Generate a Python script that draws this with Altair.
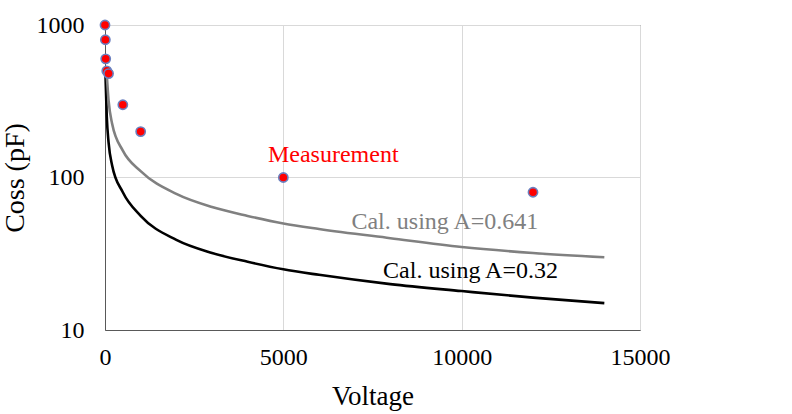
import altair as alt
import pandas as pd

# Measured output capacitance
meas_v = [0, 10, 20, 50, 100, 500, 1000, 5000, 12000]
meas_c = [1000, 800, 600, 500, 480, 300, 200, 100, 80]

# Calculated curves
cal_v = [12, 50, 100, 200, 500, 1000, 2000, 3000, 4000, 5000, 6000, 8000, 10000, 12000, 14000]
cal_a032 = [480, 250, 170, 120, 80, 56, 39, 32, 28, 25, 23, 20, 18, 16.3, 15]
cal_v2 = [50, 100, 200, 500, 1000, 2000, 3000, 4000, 5000, 6000, 8000, 10000, 12000, 14000]
cal_a0641 = [470, 320, 225, 150, 110, 78, 64, 56, 50, 46, 40, 35, 32, 30]

# Annotation labels
labels = ["Measurement", "Cal. using A=0.641", "Cal. using A=0.32"]
label_v = [6400, 12150, 12700]
label_c = [126, 46, 21.9]
label_colors = ["#ff0000", "#808080", "#000000"]
label_align = ["center", "right", "right"]

FONT = "Liberation Serif"

meas = pd.DataFrame({"V": meas_v, "C": meas_c})
c1 = pd.DataFrame({"V": cal_v, "C": cal_a032})
c2 = pd.DataFrame({"V": cal_v2, "C": cal_a0641})

x_scale = alt.Scale(domain=[0, 15000], nice=False)
y_scale = alt.Scale(type="log", domain=[10, 1000], nice=False)

x_enc = alt.X(
    "V:Q", scale=x_scale,
    axis=alt.Axis(values=[0, 5000, 10000, 15000], title="Voltage", format="d",
                  grid=True, gridColor="#d9d9d9", ticks=False, domainColor="#595959",
                  labelFont=FONT, labelFontSize=24, labelColor="#000000", labelPadding=15,
                  titleFont=FONT, titleFontSize=27, titleFontWeight="normal",
                  titleColor="#000000", titlePadding=14, labelFlush=False),
)
y_enc = alt.Y(
    "C:Q", scale=y_scale,
    axis=alt.Axis(values=[10, 100, 1000], title="Coss (pF)", format="d",
                  grid=True, gridColor="#d9d9d9", ticks=False, domainColor="#595959",
                  labelFont=FONT, labelFontSize=24, labelColor="#000000", labelPadding=21,
                  titleFont=FONT, titleFontSize=28, titleFontWeight="normal",
                  titleColor="#000000", titlePadding=7),
)

line_a032 = alt.Chart(c1).mark_line(color="#000000", strokeWidth=2.6, interpolate="monotone").encode(x=x_enc, y=y_enc)
line_a0641 = alt.Chart(c2).mark_line(color="#808080", strokeWidth=2.6, interpolate="monotone").encode(x="V:Q", y="C:Q")

points = alt.Chart(meas).mark_point(
    filled=True, fill="#ff0000", stroke="#6a7fbf", strokeWidth=1.6, size=85, opacity=1
).encode(x="V:Q", y="C:Q")

texts = []
for t, v, c, col, al in zip(labels, label_v, label_c, label_colors, label_align):
    df = pd.DataFrame({"V": [v], "C": [c], "t": [t]})
    texts.append(
        alt.Chart(df).mark_text(font=FONT, fontSize=24, color=col, align=al, baseline="alphabetic")
        .encode(x="V:Q", y="C:Q", text="t:N")
    )

chart = alt.layer(line_a032, line_a0641, points, *texts).properties(
    width=535, height=305,
    autosize=alt.AutoSizeParams(type="none"),
    padding={"left": 105, "top": 25, "right": 152, "bottom": 84},
    background="#ffffff",
).configure_view(stroke="#595959", strokeWidth=1)

chart.save("out.html", embed_options={"renderer": "svg", "actions": False})
